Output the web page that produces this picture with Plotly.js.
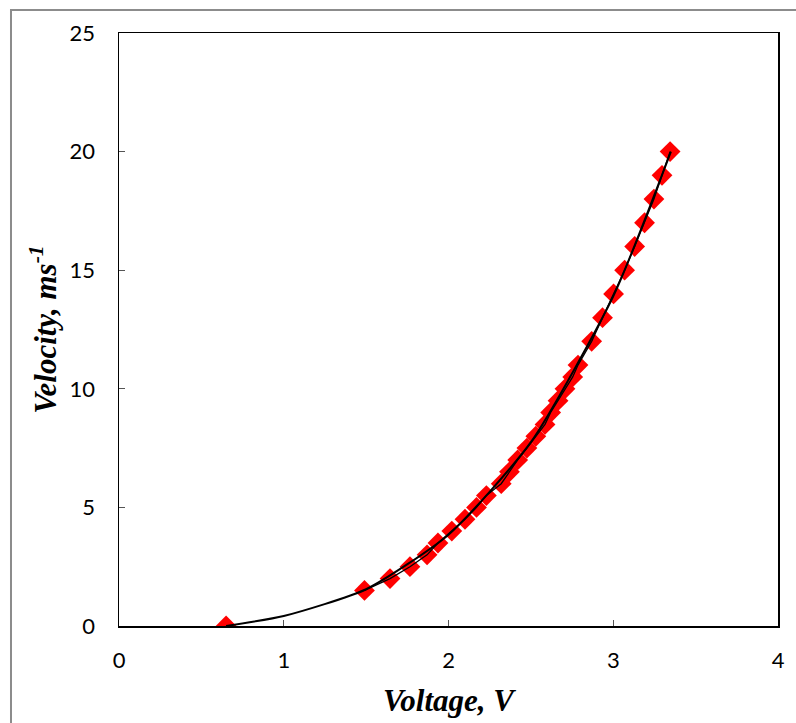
<!DOCTYPE html>
<html>
<head>
<meta charset="utf-8">
<script src="https://cdn.plot.ly/plotly-3.0.1.min.js"></script>
<style>html,body{margin:0;padding:0;background:#fff;}#chart{width:796px;height:723px;}</style>
</head>
<body>
<div id="chart"></div>
<script>
const voltage = [0.65, 1.49, 1.645, 1.766, 1.87, 1.936, 2.02, 2.10, 2.17, 2.23, 2.32, 2.37, 2.42, 2.476, 2.53, 2.586, 2.62, 2.665, 2.707, 2.754, 2.786, 2.869, 2.935, 3.002, 3.069, 3.13, 3.19, 3.247, 3.296, 3.345];
const velocity = [0, 1.5, 2, 2.5, 3, 3.5, 4, 4.5, 5, 5.5, 6, 6.5, 7, 7.5, 8, 8.5, 9, 9.5, 10, 10.5, 11, 12, 13, 14, 15, 16, 17, 18, 19, 20];
const fitVoltage = [0.65, 1.0, 1.5, 2.0, 2.5, 3.0, 3.35];
const fitVelocity = [0, 0.42, 1.55, 3.85, 7.75, 13.9, 20.0];
const xTicks = [0, 1, 2, 3, 4];
const yTicks = [0, 5, 10, 15, 20, 25];

const traces = [
  {x: voltage, y: velocity, mode: 'markers',
   marker: {symbol: 'diamond', size: 16, color: '#ff0000', line: {width: 0}}},
  {x: fitVoltage, y: fitVelocity, mode: 'lines', line: {color: '#000', width: 2.0, shape: 'spline', smoothing: 0.6}, hoverinfo: 'skip'},
  {x: voltage.slice(1), y: velocity.slice(1), mode: 'lines', line: {color: '#000', width: 1.3}, hoverinfo: 'skip'}
];
const tickFont = {family: 'Lato, "Open Sans", sans-serif', size: 22, color: '#000'};
const titleFont = {family: '"Liberation Serif", "Times New Roman", serif', size: 31, color: '#000'};
const layout = {
  width: 796, height: 723,
  margin: {l: 119, r: 18, t: 33, b: 97},
  showlegend: false,
  paper_bgcolor: '#fff', plot_bgcolor: '#fff',
  xaxis: {range: [0, 4], tickvals: xTicks, ticktext: xTicks.map(String), showgrid: false, zeroline: false,
    showline: true, linecolor: '#000', linewidth: 1.5, mirror: true,
    ticks: 'inside', ticklen: 6, tickcolor: '#555', tickfont: tickFont, ticklabelstandoff: 14,
    title: {text: '<b><i>Voltage, V</i></b>', font: titleFont, standoff: 17}},
  yaxis: {range: [0, 25], tickvals: yTicks, ticktext: yTicks.map(String), showgrid: false, zeroline: false,
    showline: true, linecolor: '#000', linewidth: 1.5, mirror: true,
    ticks: 'inside', ticklen: 6, tickcolor: '#555', tickfont: tickFont, ticklabelstandoff: 18,
    title: {text: '<b><i>Velocity, ms<sup>-1</sup></i></b>', font: titleFont, standoff: 3}},
  shapes: [{type: 'rect', xref: 'paper', yref: 'paper', x0: -0.1639, x1: 1.04, y0: -0.3, y1: 1.0388,
    line: {color: '#8c8c8c', width: 2}, layer: 'below'}]
};
Plotly.newPlot('chart', traces, layout, {displayModeBar: false, staticPlot: true});
</script>
</body>
</html>
